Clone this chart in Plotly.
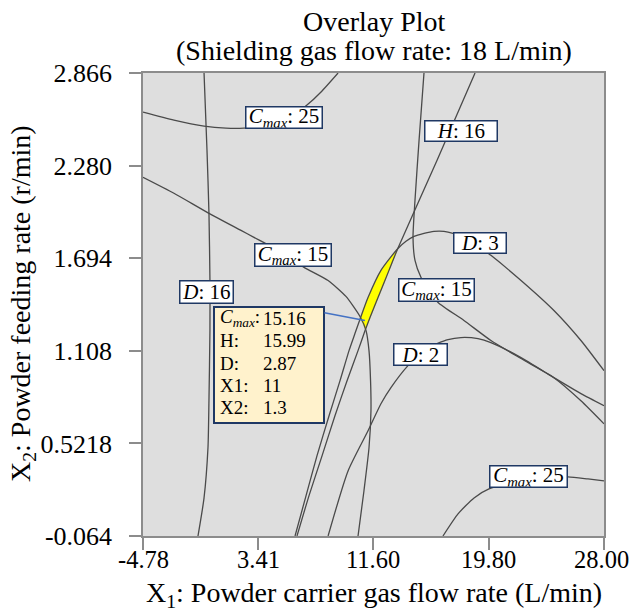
import plotly.graph_objects as go

# ---- axes -------------------------------------------------------------
x1_ticks = [-4.78, 3.41, 11.60, 19.80, 28.00]
x1_ticktext = ["-4.78", "3.41", "11.60", "19.80", "28.00"]
x2_ticks = [-0.064, 0.5218, 1.108, 1.694, 2.280, 2.866]
x2_ticktext = ["-0.064", "0.5218", "1.108", "1.694", "2.280", "2.866"]

# ---- contour lines (X1 in L/min, X2 in r/min) -------------------------
d16_x1 = [-0.44, -0.23, -0.09, -0.02, -0.02, -0.09, -0.16, -0.44, -0.87]
d16_x2 = [2.866, 2.378, 1.978, 1.553, 1.236, 0.792, 0.494, 0.177, -0.064]

cmax25a_x1 = [-4.78, -2.58, -0.44, 1.12, 2.40, 4.32, 5.74, 6.88, 7.88, 9.09]
cmax25a_x2 = [2.619, 2.568, 2.530, 2.517, 2.517, 2.536, 2.587, 2.663, 2.746, 2.866]

cmax15a_x1 = [-4.78, -2.58, -0.09, 2.19, 3.11, 4.32, 5.74, 6.67, 8.38, 9.65,
              10.65, 11.08, 11.29, 11.40, 11.43, 11.29, 10.93, 10.51]
cmax15a_x2 = [2.206, 2.105, 1.978, 1.870, 1.826, 1.769, 1.693, 1.636, 1.553, 1.452,
              1.325, 1.236, 1.109, 0.919, 0.729, 0.494, 0.221, -0.064]

cmax15b_x1 = [15.20, 14.85, 14.56, 14.42, 14.56, 14.99, 15.56, 16.20, 18.04, 19.96,
              22.10, 24.44, 26.36, 28.00]
cmax15b_x2 = [2.866, 2.441, 2.061, 1.826, 1.680, 1.572, 1.490, 1.414, 1.300, 1.173,
              1.059, 0.938, 0.792, 0.646]

h16_x1 = [18.83, 16.13, 13.33, 12.71, 11.93, 11.36, 11.01, 10.51, 9.73, 8.87, 7.95, 7.02, 6.17]
h16_x2 = [2.866, 2.314, 1.754, 1.617, 1.445, 1.319, 1.236, 1.109, 0.919, 0.697, 0.443, 0.190, -0.064]

d3_x1 = [6.03, 6.81, 7.59, 8.45, 9.23, 9.87, 10.29, 10.72, 11.22, 12.14, 13.33, 13.92,
         14.49, 15.20, 15.91, 16.62, 17.26, 18.54, 19.96, 22.10, 24.44, 26.36, 28.00]
d3_x2 = [-0.064, 0.190, 0.443, 0.697, 0.919, 1.109, 1.217, 1.325, 1.445, 1.617, 1.754, 1.801,
         1.832, 1.851, 1.864, 1.864, 1.851, 1.807, 1.712, 1.553, 1.363, 1.173, 0.982]

d2_x1 = [8.38, 9.80, 11.22, 12.14, 12.85, 14.06, 15.34, 16.91, 17.83, 19.04, 19.96,
         22.10, 24.44, 26.36, 28.00]
d2_x2 = [-0.064, 0.348, 0.602, 0.773, 0.875, 1.014, 1.122, 1.179, 1.192, 1.185, 1.160,
         1.065, 0.938, 0.837, 0.761]

cmax25b_x1 = [16.55, 17.62, 18.76, 19.82, 22.60, 25.44, 26.86, 28.00]
cmax25b_x2 = [-0.064, 0.076, 0.177, 0.234, 0.297, 0.310, 0.297, 0.285]

# ---- feasible (overlay) window -----------------------------------------
win_x1 = [13.33, 12.71, 11.93, 11.36, 11.04, 10.86, 10.68, 11.22, 12.14, 13.33]
win_x2 = [1.754, 1.617, 1.445, 1.319, 1.244, 1.280, 1.317, 1.445, 1.617, 1.754]

# ---- flagged point ------------------------------------------------------
pt_cmax = 15.16
pt_h = 15.99
pt_d = 2.87
pt_x1 = 11
pt_x2 = 1.3

SERIF = "Liberation Serif"
LINE = "#4A4A4A"
NAVY = "#1F3864"

fig = go.Figure()

fig.add_trace(go.Scatter(
    x=win_x1, y=win_x2, mode="lines", fill="toself",
    fillcolor="#FFFF00", line=dict(color="#FFFF00", width=0.5),
    hoverinfo="skip", showlegend=False))

curves = [
    (d16_x1, d16_x2), (cmax25a_x1, cmax25a_x2), (cmax15a_x1, cmax15a_x2),
    (cmax15b_x1, cmax15b_x2), (h16_x1, h16_x2), (d3_x1, d3_x2),
    (d2_x1, d2_x2), (cmax25b_x1, cmax25b_x2),
]
for cx, cy in curves:
    fig.add_trace(go.Scatter(
        x=cx, y=cy, mode="lines",
        line=dict(color=LINE, width=1.3, shape="spline", smoothing=0.6),
        hoverinfo="skip", showlegend=False))

CM = "<i>C</i><sub><i>max</i></sub>"
# contour labels: text, x1, x2, box width, box height (px)
labels = [
    (CM + ": 25", 5.25, 2.584, 78, 23),
    (CM + ": 15", 5.89, 1.712, 78, 24),
    ("<i>D</i>: 16", -0.26, 1.477, 55, 24),
    ("<i>H</i>: 16", 17.83, 2.498, 74, 22),
    ("<i>D</i>: 3", 19.18, 1.788, 54, 22),
    (CM + ": 15", 16.09, 1.490, 77, 24),
    ("<i>D</i>: 2", 14.95, 1.087, 55, 23),
    (CM + ": 25", 22.63, 0.313, 79, 23),
]

W, H = 630, 615
L, R, T, B = 143, 26, 73, 79
PW, PH = W - L - R, H - T - B


def px(xp, yp):
    """Pixel position on the page -> paper coordinates."""
    return (xp - L) / PW, (H - B - yp) / PH


annotations = []
for text, ax_, ay_, bw, bh in labels:
    annotations.append(dict(
        x=ax_, y=ay_, xref="x", yref="y", text=text, showarrow=False,
        font=dict(family=SERIF, size=21, color="black"),
        bgcolor="white", bordercolor=NAVY, borderwidth=1.5, borderpad=0,
        width=bw - 3, height=bh - 3, xanchor="center", yanchor="middle"))

# pointer from the info box to the flagged point
annotations.append(dict(
    x=pt_x1, y=pt_x2, xref="x", yref="y", text="", showarrow=True,
    ax=-42, ay=-8, arrowhead=0, arrowwidth=1.5, arrowcolor="#4472C4", standoff=0))

# info box rows
tip_names = [CM + ":", "H:", "D:", "X1:", "X2:"]
tip_vals = [pt_cmax, pt_h, pt_d, pt_x1, pt_x2]
row_y = [318, 340.5, 363, 385, 407]
for name, val, yp in zip(tip_names, tip_vals, row_y):
    lx, ly = px(218, yp)
    vx, _ = px(261, yp)
    annotations.append(dict(x=lx, y=ly, xref="paper", yref="paper", text=name,
                            showarrow=False, xanchor="left", yanchor="middle",
                            font=dict(family=SERIF, size=19, color="black")))
    annotations.append(dict(x=vx, y=ly, xref="paper", yref="paper", text=f"{val:g}",
                            showarrow=False, xanchor="left", yanchor="middle",
                            font=dict(family=SERIF, size=19, color="black")))

# x tick labels (the last one nudged so it stays inside the page)
_, tick_y = px(0, 559)
for i, (tv, tt) in enumerate(zip(x1_ticks, x1_ticktext)):
    annotations.append(dict(x=tv, y=tick_y, xref="x", yref="paper", text=tt,
                            showarrow=False, xanchor="center", yanchor="middle",
                            xshift=-3 if i == len(x1_ticks) - 1 else 0,
                            font=dict(family=SERIF, size=24.5, color="black")))

# titles
tx, ty1 = px(374, 21)
_, ty2 = px(374, 51)
annotations.append(dict(x=tx, y=ty1, xref="paper", yref="paper", text="Overlay Plot",
                        showarrow=False, xanchor="center", yanchor="middle",
                        font=dict(family=SERIF, size=28, color="black")))
annotations.append(dict(x=tx, y=ty2, xref="paper", yref="paper",
                        text="(Shielding gas flow rate: 18 L/min)",
                        showarrow=False, xanchor="center", yanchor="middle",
                        font=dict(family=SERIF, size=28, color="black")))
axx, axy = px(374, 594)
annotations.append(dict(x=axx, y=axy, xref="paper", yref="paper",
                        text="X<sub>1</sub>: Powder carrier gas flow rate (L/min)",
                        showarrow=False, xanchor="center", yanchor="middle",
                        font=dict(family=SERIF, size=28, color="black")))
ayx, ayy = px(22, 304)
annotations.append(dict(x=ayx, y=ayy, xref="paper", yref="paper",
                        text="X<sub>2</sub>: Powder feeding rate (r/min)", textangle=-90,
                        showarrow=False, xanchor="center", yanchor="middle",
                        font=dict(family=SERIF, size=28, color="black")))

bx0, by0 = px(214, 423)
bx1, by1 = px(324, 307)
shapes = [dict(type="rect", xref="paper", yref="paper", x0=bx0, y0=by0, x1=bx1, y1=by1,
               fillcolor="#FFF2CC", line=dict(color=NAVY, width=2), layer="above")]

axis_common = dict(
    showgrid=False, zeroline=False, showline=True, mirror=True,
    linecolor="#8C8C8C", linewidth=1.5, ticks="outside", ticklen=12,
    tickcolor="#8C8C8C", tickwidth=1.5,
    tickfont=dict(family=SERIF, size=26, color="black"))

fig.update_layout(
    width=W, height=H, autosize=False,
    margin=dict(l=L, r=R, t=T, b=B),
    paper_bgcolor="white", plot_bgcolor="#DEDEDE",
    xaxis=dict(range=[-4.78, 28.00], tickvals=x1_ticks, showticklabels=False,
               **axis_common),
    yaxis=dict(range=[-0.064, 2.866], tickvals=x2_ticks, ticktext=x2_ticktext,
               ticklabelstandoff=12, **axis_common),
    annotations=annotations, shapes=shapes, showlegend=False)

fig.write_html("out.html")
